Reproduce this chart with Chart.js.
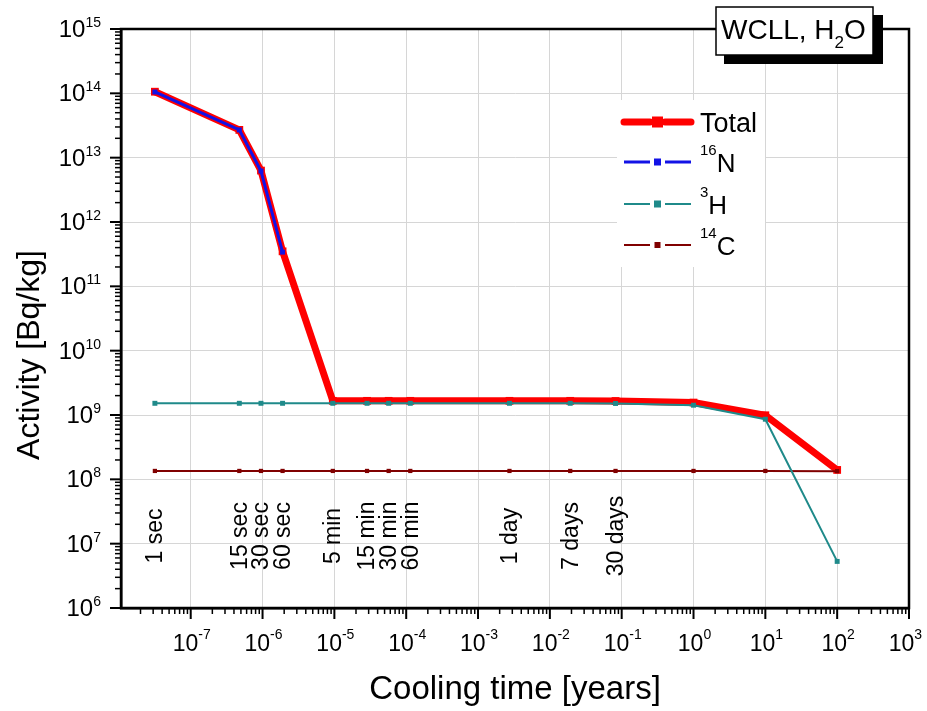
<!DOCTYPE html>
<html>
<head>
<meta charset="utf-8">
<script src="https://cdn.jsdelivr.net/npm/chart.js@4.4.0/dist/chart.umd.min.js"></script>
<style>
    html, body { margin: 0; padding: 0; background: #fff; }
</style>
</head>
<body>
<canvas id="activity-chart" width="927" height="711"></canvas>
<script>
// cooling times in years (1 s, 15 s, 30 s, 60 s, 5 min, 15 min, 30 min, 60 min, 1 d, 7 d, 30 d, 1 y, 10 y, 100 y)
var coolingTimes = [3.17e-8, 4.75e-7, 9.51e-7, 1.90e-6, 9.51e-6, 2.85e-5, 5.70e-5, 1.14e-4, 2.74e-3, 1.92e-2, 8.21e-2, 1, 10, 100];
var timeLabels = ["1 sec", "15 sec", "30 sec", "60 sec", "5 min", "15 min", "30 min", "60 min", "1 day", "7 days", "30 days"];

// activity [Bq/kg]
var totalActivity = [1.06e14, 2.7e13, 6.3e12, 3.5e11, 1.66e9, 1.66e9, 1.66e9, 1.66e9, 1.66e9, 1.66e9, 1.65e9, 1.56e9, 9.9e8, 1.4e8];
var n16Activity = [1.05e14, 2.7e13, 6.2e12, 3.4e11];
var h3Activity = [1.52e9, 1.52e9, 1.52e9, 1.52e9, 1.52e9, 1.52e9, 1.52e9, 1.52e9, 1.52e9, 1.52e9, 1.51e9, 1.42e9, 8.6e8, 5.3e6];
var c14Activity = [1.35e8, 1.35e8, 1.35e8, 1.35e8, 1.35e8, 1.35e8, 1.35e8, 1.35e8, 1.35e8, 1.35e8, 1.35e8, 1.35e8, 1.35e8, 1.34e8];

// axis decades
var xExponents = [-7, -6, -5, -4, -3, -2, -1, 0, 1, 2, 3];
var yExponents = [6, 7, 8, 9, 10, 11, 12, 13, 14, 15];
var xMin = 1.07e-8, xMax = 1e3;
var yMin = 1e6, yMax = 1e15;

function toPoints(values) {
    return values.map(function (v, i) {
        return { x: coolingTimes[i], y: v };
    });
}

function majorTicks(exps) {
    return exps.map(function (e) { return { value: Math.pow(10, e) }; });
}

var FONT = 'Arial, "Liberation Sans", sans-serif';

// draws base text followed by a superscript
function drawPow(ctx, base, sup, x, y, size, supSize, rise, align, maxRight) {
    ctx.font = size + 'px ' + FONT;
    var wb = ctx.measureText(base).width;
    ctx.font = supSize + 'px ' + FONT;
    var ws = ctx.measureText(sup).width;
    var start = x;
    if (align === 'right') start = x - wb - ws;
    if (align === 'center') start = x - (wb + ws) / 2;
    if (maxRight && start + wb + ws > maxRight) start = maxRight - wb - ws;
    ctx.textAlign = 'left';
    ctx.textBaseline = 'alphabetic';
    ctx.font = size + 'px ' + FONT;
    ctx.fillText(base, start, y);
    ctx.font = supSize + 'px ' + FONT;
    ctx.fillText(sup, start + wb, y - rise);
}

var decorations = {
    id: 'decorations',
    beforeDatasetsDraw: function (chart) {
        // white legend background hides the grid
        var ctx = chart.ctx;
        ctx.save();
        ctx.fillStyle = '#fff';
        ctx.fillRect(617, 100, 148, 167);
        ctx.restore();
    },
    afterDraw: function (chart) {
        var ctx = chart.ctx;
        var area = chart.chartArea;
        var xs = chart.scales.x, ys = chart.scales.y;
        ctx.save();
        ctx.fillStyle = '#000';
        ctx.strokeStyle = '#000';

        // frame
        ctx.lineWidth = 2.5;
        ctx.strokeRect(area.left, area.top, area.right - area.left, area.bottom - area.top);

        // tick marks
        var e, m, v, p, len;
        for (e = -9; e <= 3; e++) {
            for (m = 1; m <= 9; m++) {
                v = m * Math.pow(10, e);
                if (v < xMin * 0.999 || v > xMax * 1.001) continue;
                p = xs.getPixelForValue(v);
                len = m === 1 ? 11 : 6;
                ctx.lineWidth = m === 1 ? 2 : 1.5;
                ctx.beginPath();
                ctx.moveTo(p, area.bottom);
                ctx.lineTo(p, area.bottom + len);
                ctx.stroke();
            }
        }
        for (e = 6; e <= 15; e++) {
            for (m = 1; m <= 9; m++) {
                v = m * Math.pow(10, e);
                if (v < yMin * 0.999 || v > yMax * 1.001) continue;
                p = ys.getPixelForValue(v);
                len = m === 1 ? 11 : 6;
                ctx.lineWidth = m === 1 ? 2 : 1.5;
                ctx.beginPath();
                ctx.moveTo(area.left - len, p);
                ctx.lineTo(area.left, p);
                ctx.stroke();
            }
        }

        // tick labels
        xExponents.forEach(function (ex) {
            var px = xs.getPixelForValue(Math.pow(10, ex));
            drawPow(ctx, '10', String(ex), px + 1, 651, 23, 14, 12, 'center', 922);
        });
        yExponents.forEach(function (ex) {
            var py = ys.getPixelForValue(Math.pow(10, ex));
            drawPow(ctx, '10', String(ex), 101, py + 8, 24, 14, 10, 'right');
        });

        // axis titles
        ctx.font = '33px ' + FONT;
        ctx.textAlign = 'center';
        ctx.textBaseline = 'alphabetic';
        ctx.fillText('Cooling time [years]', (area.left + area.right) / 2, 699);
        ctx.save();
        ctx.translate(39, 355);
        ctx.rotate(-Math.PI / 2);
        ctx.font = '32px ' + FONT;
        ctx.fillText('Activity [Bq/kg]', 0, 0);
        ctx.restore();

        // cooling time markers
        ctx.font = '23px ' + FONT;
        ctx.textAlign = 'center';
        ctx.textBaseline = 'middle';
        timeLabels.forEach(function (lbl, i) {
            var px = xs.getPixelForValue(coolingTimes[i]);
            ctx.save();
            ctx.translate(px + 1, 536);
            ctx.rotate(-Math.PI / 2);
            ctx.fillText(lbl, 0, 0);
            ctx.restore();
        });

        // legend
        var rows = [
            { ds: 3, y: 122, sup: '', name: 'Total' },
            { ds: 0, y: 162, sup: '16', name: 'N' },
            { ds: 1, y: 204, sup: '3', name: 'H' },
            { ds: 2, y: 245, sup: '14', name: 'C' }
        ];
        rows.forEach(function (r) {
            var d = chart.data.datasets[r.ds];
            ctx.strokeStyle = d.borderColor;
            ctx.fillStyle = d.borderColor;
            ctx.lineWidth = d.borderWidth;
            ctx.lineCap = r.ds === 3 ? 'round' : 'butt';
            ctx.beginPath();
            ctx.moveTo(624, r.y); ctx.lineTo(650, r.y);
            ctx.moveTo(665, r.y); ctx.lineTo(691, r.y);
            ctx.stroke();
            var s = d.pointRadius * 2;
            ctx.fillRect(657.5 - s / 2, r.y - s / 2, s, s);
            ctx.fillStyle = '#000';
            ctx.textAlign = 'left';
            ctx.textBaseline = 'alphabetic';
            if (r.sup) {
                ctx.font = '15px ' + FONT;
                var ws = ctx.measureText(r.sup).width;
                ctx.fillText(r.sup, 700, r.y - 7);
                ctx.font = '26px ' + FONT;
                ctx.fillText(r.name, 700 + ws, r.y + 10);
            } else {
                ctx.font = '27px ' + FONT;
                ctx.fillText(r.name, 700, r.y + 10);
            }
        });
        ctx.lineCap = 'butt';

        // title box with shadow
        ctx.fillStyle = '#000';
        ctx.fillRect(724, 15, 159, 49);
        ctx.fillStyle = '#fff';
        ctx.fillRect(716, 7, 157, 48);
        ctx.strokeStyle = '#000';
        ctx.lineWidth = 1.5;
        ctx.strokeRect(716, 7, 157, 48);
        ctx.fillStyle = '#000';
        ctx.textAlign = 'left';
        ctx.textBaseline = 'alphabetic';
        ctx.font = '28px ' + FONT;
        var w1 = ctx.measureText('WCLL, H').width;
        ctx.fillText('WCLL, H', 721, 39);
        ctx.font = '17px ' + FONT;
        var w2 = ctx.measureText('2').width;
        ctx.fillText('2', 721 + w1, 48);
        ctx.font = '28px ' + FONT;
        ctx.fillText('O', 721 + w1 + w2, 39);

        ctx.restore();
    }
};

var chartCtx = document.getElementById('activity-chart').getContext('2d');

var activityChart = new Chart(chartCtx, {
    type: 'line',
    data: {
        datasets: [
            {
                label: '16N',
                data: toPoints(n16Activity),
                borderColor: '#1212e6',
                backgroundColor: '#1212e6',
                borderWidth: 3,
                pointStyle: 'rect',
                pointRadius: 3.5,
                pointBorderWidth: 0,
                order: 0
            },
            {
                label: '3H',
                data: toPoints(h3Activity),
                borderColor: '#1f8a8a',
                backgroundColor: '#1f8a8a',
                borderWidth: 2,
                pointStyle: 'rect',
                pointRadius: 3.5,
                pointBorderWidth: 0,
                order: 1
            },
            {
                label: '14C',
                data: toPoints(c14Activity),
                borderColor: '#800000',
                backgroundColor: '#800000',
                borderWidth: 2,
                pointStyle: 'rect',
                pointRadius: 3,
                pointBorderWidth: 0,
                order: 2
            },
            {
                label: 'Total',
                data: toPoints(totalActivity),
                borderColor: '#ff0000',
                backgroundColor: '#ff0000',
                borderWidth: 7,
                pointStyle: 'rect',
                pointRadius: 5.5,
                pointBorderWidth: 0,
                order: 3
            }
        ]
    },
    options: {
        responsive: false,
        animation: false,
        events: [],
        layout: { padding: { left: 121, top: 29, right: 18, bottom: 103 } },
        elements: { line: { tension: 0 } },
        plugins: {
            legend: { display: false },
            tooltip: { enabled: false }
        },
        scales: {
            x: {
                type: 'logarithmic',
                min: xMin,
                max: xMax,
                afterBuildTicks: function (scale) { scale.ticks = majorTicks(xExponents); },
                ticks: { display: false },
                grid: { color: '#d6d6d6', lineWidth: 1, drawTicks: false },
                border: { display: true, color: '#000', width: 2.5 }
            },
            y: {
                type: 'logarithmic',
                min: yMin,
                max: yMax,
                afterBuildTicks: function (scale) { scale.ticks = majorTicks(yExponents); },
                ticks: { display: false },
                grid: { color: '#d6d6d6', lineWidth: 1, drawTicks: false },
                border: { display: true, color: '#000', width: 2.5 }
            }
        }
    },
    plugins: [decorations]
});
</script>
</body>
</html>
